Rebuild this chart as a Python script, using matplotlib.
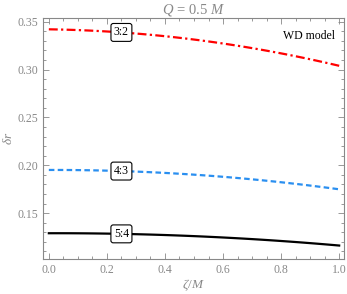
import numpy as np
import matplotlib.pyplot as plt
from matplotlib.ticker import MultipleLocator

plt.rcParams['font.family'] = 'Liberation Serif'
plt.rcParams['mathtext.fontset'] = 'custom'
plt.rcParams['mathtext.rm'] = 'Liberation Serif'
plt.rcParams['mathtext.it'] = 'Liberation Serif:italic'

zeta = [0.0, 0.2, 0.4, 0.6, 0.8, 1.0]
dr_32 = [0.342, 0.340, 0.335, 0.327, 0.317, 0.304]
dr_43 = [0.195, 0.1945, 0.192, 0.188, 0.182, 0.175]
dr_54 = [0.129, 0.1285, 0.127, 0.1245, 0.121, 0.116]
labels = ['3:2', '4:3', '5:4']
label_x = 0.25

gray = '#888888'

fig = plt.figure(figsize=(3.47, 2.94), dpi=100)
ax = fig.add_axes([0.124, 0.119, 0.866, 0.820])

xs = np.linspace(0, 1, 101)
series = [dr_32, dr_43, dr_54]
styles = [dict(color='red', ls=(0, (4, 1.5, 1, 1.5))),
          dict(color='#2a8ff0', ls=(0, (2.5, 1.5))),
          dict(color='black', ls='-')]
for ys, st, lab in zip(series, styles, labels):
    # smooth curve through the read-off points
    coef = np.polyfit(zeta, ys, 2)
    ax.plot(xs, np.polyval(coef, xs), lw=1.6, **st)
    ax.text(label_x, np.polyval(coef, label_x), lab, ha='center', va='center', fontsize=8.5,
            bbox=dict(boxstyle='round,pad=0.25,rounding_size=0.2', fc='white', ec='black', lw=0.8))

ax.text(0.985, 0.335, 'WD model', ha='right', va='center', fontsize=8.5)

ax.set_xlim(-0.02, 1.015)
ax.set_ylim(0.102, 0.354)
ax.xaxis.set_major_locator(MultipleLocator(0.2))
ax.xaxis.set_minor_locator(MultipleLocator(0.05))
ax.yaxis.set_major_locator(MultipleLocator(0.05))
ax.yaxis.set_minor_locator(MultipleLocator(0.01))
ax.xaxis.set_major_formatter(plt.FuncFormatter(lambda v, p: f'{v:.1f}'))
ax.yaxis.set_major_formatter(plt.FuncFormatter(lambda v, p: f'{v:.2f}'))
ax.tick_params(which='both', direction='in', top=True, right=True, color=gray,
               labelcolor=gray, labelsize=8.5, width=0.6)
ax.tick_params(which='major', length=4)
ax.tick_params(which='minor', length=2)
for s in ax.spines.values():
    s.set_color(gray)
    s.set_linewidth(0.8)

ax.set_xlabel(r'$\zeta/M$', color=gray, fontsize=9.5, labelpad=1)
ax.set_ylabel(r'$\delta r$', color=gray, fontsize=9.5, labelpad=2)
ax.set_title(r'$Q$ = 0.5 $M$', color=gray, fontsize=10.5, pad=3)

plt.savefig('out.png', dpi=100)
